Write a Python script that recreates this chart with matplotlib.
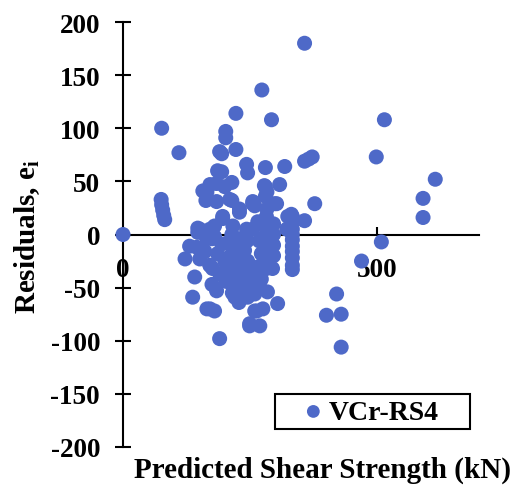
import matplotlib
matplotlib.use("Agg")
import matplotlib.pyplot as plt
from matplotlib.patches import Rectangle

# predicted shear strength (kN) and residuals
predicted = [0, 76, 110, 75, 76, 78, 80, 82, 147, 222, 273, 292, 202, 202, 222, 194,
             243, 245, 280, 318, 194, 184, 214, 200, 280, 308, 165, 163, 214, 184,
             259, 302, 280, 331, 357, 514, 498, 357, 372, 365, 614, 590, 590, 377,
             357, 508, 469, 420, 400, 429, 429, 304, 269, 294, 269, 175, 145, 122,
             141, 137, 184, 180, 190, 171, 249, 263, 275, 224, 259, 282, 210, 176,
             151, 333, 186, 190, 255, 229, 196, 282, 324, 171, 216, 255, 284, 298,
             333, 333, 333, 333, 333, 333, 333, 333, 333,
             283, 283, 283, 283, 283, 283, 283, 283, 280, 278,
             296, 296, 296, 296,
             161, 180, 194, 161, 186, 200, 171, 190, 202, 175, 165, 259, 249,
             214, 229, 220, 239, 214, 233, 222, 241, 214, 233, 220, 245, 284, 259, 249,
             131, 165, 147, 171, 151, 180, 243, 265, 322, 157, 171, 210, 255, 229, 196, 278,
             205, 212, 226, 236, 245, 208, 218, 228, 238, 248, 200, 215, 232, 244, 228,
             268, 272, 268, 272, 268]
residuals = [0, 100, 77, 33, 28, 23, 18, 14, 6, 114, 136, 108, 97, 91, 80, 76,
             66, 58, 63, 64, 59, 48, 49, 45, 45, 47, 40, 32, 32, 31,
             27, 29, 36, 19, 180, 108, 73, 69, 73, 71, 52, 34, 16, 29,
             13, -7, -25, -56, -76, -75, -106, -65, -86, -32, -51, -4, -12, -23,
             -40, -59, -53, -72, -98, -70, -84, -72, -70, -58, -56, -32, -39, -32,
             -23, -29, 60, 78, 29, 21, 15, 17, 17, 5, 8, 5, 5, 29,
             17, 11, 5, 0, -5, -11, -16, -22, -33,
             40, 24, 13, -4, -9, -15, -21, -26, 10, -2,
             10, 0, -10, -20,
             0, -2, -9, -16, -18, -25, -29, -37, -44, -47, -70, -72, -86,
             0, -4, -12, -15, -23, -28, -34, -40, -47, -53, -59, -59, -54, -42, -34,
             -11, -4, 2, -29, 5, 8, 5, 12, 5, 41, 47, 33, 31, 24, 17, 46,
             -8, -20, -18, -8, -25, -40, -31, -45, -50, -48, -35, -55, -20, -6, -64,
             -6, -18, -30, -42, -48]

x_ticks = [0, 500]
y_ticks = [-200, -150, -100, -50, 0, 50, 100, 150, 200]
series_name = "VCr-RS4"

plt.rcParams["font.family"] = "Liberation Serif"
plt.rcParams["font.weight"] = "bold"
plt.rcParams["mathtext.fontset"] = "custom"
plt.rcParams["mathtext.rm"] = "Liberation Serif:bold"
plt.rcParams["mathtext.it"] = "Liberation Serif:bold"

fig = plt.figure(figsize=(5.13, 4.89), dpi=100)
ax = fig.add_axes([123/513, 41/489, 356/513, 425/489])

ax.scatter(predicted, residuals, s=117, color="#4E69C8", edgecolors="none",
           label=series_name, zorder=3, clip_on=False)

ax.set_xlim(0, 700)
ax.set_ylim(-200, 200)

ax.spines["top"].set_visible(False)
ax.spines["right"].set_visible(False)
ax.spines["bottom"].set_position(("data", 0))
ax.spines["left"].set_linewidth(1.5)
ax.spines["bottom"].set_linewidth(1.5)

ax.set_xticks(x_ticks)
ax.set_yticks(y_ticks)
ax.set_yticklabels([str(v) for v in y_ticks])
ax.tick_params(axis="y", direction="inout", length=11, width=1.5, pad=11,
               labelsize=19.5)
ax.tick_params(axis="x", direction="in", length=6, width=1.5, pad=16,
               labelsize=19.5)
for lab in ax.get_xticklabels() + ax.get_yticklabels():
    lab.set_fontweight("bold")

fig.text(322/513, 1 - 470/489, "Predicted Shear Strength (kN)", fontsize=21,
         fontweight="bold", ha="center", va="center")
fig.text(27/513, 1 - 237/489, r"Residuals, e$_\mathrm{i}$", fontsize=21,
         fontweight="bold", ha="center", va="center", rotation=90)

leg = ax.legend(loc="center left", bbox_to_anchor=(305/513, 1 - 413/489),
                bbox_transform=fig.transFigure, frameon=False, fontsize=20,
                handlelength=0.6, handletextpad=0.25, borderpad=0, borderaxespad=0,
                markerscale=0.85)
for t in leg.get_texts():
    t.set_fontweight("bold")
fig.patches.append(Rectangle((275/513, 1 - 430/489), 195/513, 35/489,
                             transform=fig.transFigure, fill=False,
                             edgecolor="black", linewidth=1.5))

fig.savefig("out.png", dpi=100)
